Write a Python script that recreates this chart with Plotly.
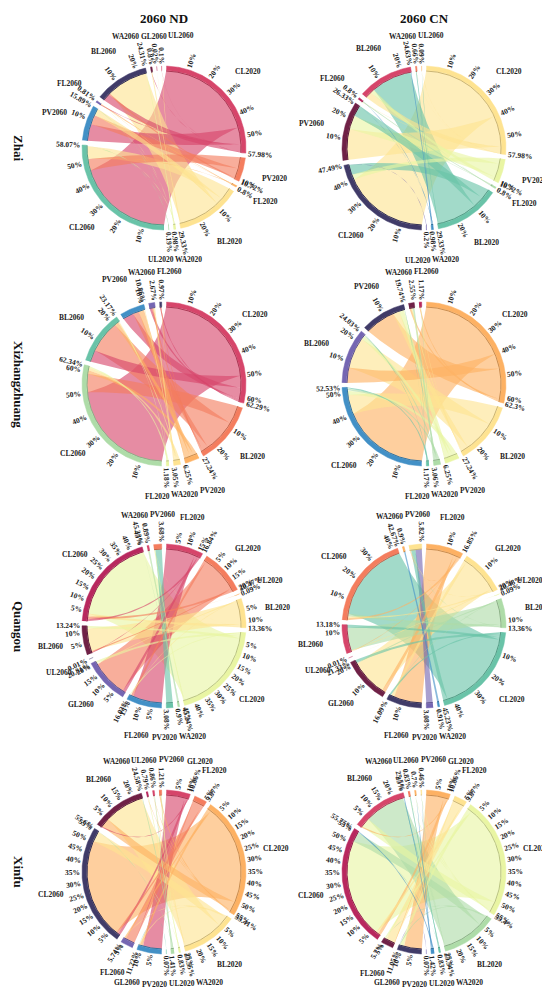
import numpy as np
import plotly.graph_objects as go

W, H = 550, 989

sites = ["Zhai", "Xizhangzhuang", "Quangou", "Xinfu"]
scenarios = ["2060 ND", "2060 CN"]

# ---- Zhai ----
zhai_nd_2020 = ["CL2020", "PV2020", "FL2020", "BL2020", "WA2020", "UL2020"]
zhai_nd_2020_pct = [57.98, 10.72, 0.8, 29.33, 0.98, 0.19]
zhai_nd_2060 = ["CL2060", "PV2060", "FL2060", "BL2060", "WA2060", "GL2060", "UL2060"]
zhai_nd_2060_pct = [58.07, 15.89, 0.81, 24.31, 0.8, 0.02, 0.1]
zhai_nd_flows = [
    [46.0, 8.0, 0.3, 3.5, 0.13, 0.0, 0.05],
    [5.5, 4.5, 0.0, 0.72, 0.0, 0.0, 0.0],
    [0.2, 0.2, 0.4, 0.0, 0.0, 0.0, 0.0],
    [6.0, 3.1, 0.06, 19.6, 0.5, 0.02, 0.05],
    [0.2, 0.07, 0.05, 0.49, 0.17, 0.0, 0.0],
    [0.17, 0.02, 0.0, 0.0, 0.0, 0.0, 0.0],
]

zhai_cn_2020 = ["CL2020", "PV2020", "FL2020", "BL2020", "WA2020", "UL2020"]
zhai_cn_2020_pct = [57.98, 10.72, 0.8, 29.33, 0.98, 0.2]
zhai_cn_2060 = ["CL2060", "PV2060", "FL2060", "BL2060", "WA2060", "UL2060"]
zhai_cn_2060_pct = [47.49, 26.33, 0.8, 24.63, 0.66, 0.09]
zhai_cn_flows = [
    [40.0, 14.5, 0.1, 3.3, 0.05, 0.03],
    [2.5, 6.5, 0.0, 1.72, 0.0, 0.0],
    [0.0, 0.2, 0.5, 0.1, 0.0, 0.0],
    [4.8, 5.1, 0.0, 19.0, 0.37, 0.06],
    [0.0, 0.03, 0.2, 0.51, 0.24, 0.0],
    [0.2, 0.0, 0.0, 0.0, 0.0, 0.0],
]

# ---- Xizhangzhuang ----
xizh_nd_2020 = ["CL2020", "BL2020", "PV2020", "WA2020", "FL2020"]
xizh_nd_2020_pct = [62.29, 27.24, 6.25, 3.05, 1.18]
xizh_nd_2060 = ["CL2060", "BL2060", "PV2060", "WA2060", "FL2060"]
xizh_nd_2060_pct = [62.34, 23.17, 10.86, 2.67, 0.97]
xizh_nd_flows = [
    [50.29, 5.5, 5.0, 1.0, 0.5],
    [8.5, 15.0, 2.8, 0.64, 0.3],
    [1.6, 1.8, 2.5, 0.25, 0.1],
    [1.2, 0.6, 0.48, 0.7, 0.07],
    [0.75, 0.27, 0.08, 0.08, 0.0],
]

xizh_cn_2020 = ["CL2020", "BL2020", "PV2020", "WA2020", "FL2020"]
xizh_cn_2020_pct = [62.3, 27.24, 6.25, 3.06, 1.17]
xizh_cn_2060 = ["CL2060", "BL2060", "PV2060", "WA2060", "FL2060"]
xizh_cn_2060_pct = [52.53, 24.03, 19.74, 2.55, 1.17]
xizh_cn_flows = [
    [40.0, 7.0, 14.0, 0.8, 0.5],
    [9.0, 14.5, 3.0, 0.5, 0.24],
    [2.0, 1.7, 2.2, 0.25, 0.1],
    [0.9, 0.6, 0.46, 0.8, 0.3],
    [0.63, 0.23, 0.08, 0.2, 0.03],
]

# ---- Quangou ----
quan_nd_2020 = ["FL2020", "GL2020", "UL2020", "BL2020", "CL2020", "WA2020", "PV2020"]
quan_nd_2020_pct = [16.84, 20.47, 0.09, 13.36, 45.24, 0.9, 3.08]
quan_nd_2060 = ["FL2060", "GL2060", "UL2060", "BL2060", "CL2060", "WA2060", "PV2060"]
quan_nd_2060_pct = [16.03, 20.81, 0.01, 13.24, 45.33, 0.89, 3.68]
quan_nd_flows = [
    [14.0, 1.5, 0.0, 0.34, 1.0, 0.0, 0.0],
    [1.2, 17.5, 0.0, 0.57, 1.2, 0.0, 0.0],
    [0.0, 0.0, 0.01, 0.0, 0.08, 0.0, 0.0],
    [0.3, 0.5, 0.0, 11.0, 1.5, 0.0, 0.06],
    [0.53, 1.31, 0.0, 1.33, 41.4, 0.17, 0.5],
    [0.0, 0.0, 0.0, 0.0, 0.15, 0.72, 0.03],
    [0.0, 0.0, 0.0, 0.0, 0.0, 0.0, 3.08],
]

quan_cn_2020 = ["FL2020", "GL2020", "UL2020", "BL2020", "CL2020", "WA2020", "PV2020"]
quan_cn_2020_pct = [16.85, 20.48, 0.09, 13.36, 45.23, 0.91, 3.08]
quan_cn_2060 = ["FL2060", "GL2060", "UL2060", "BL2060", "CL2060", "WA2060", "PV2060"]
quan_cn_2060_pct = [16.09, 21.33, 0.01, 13.18, 42.67, 0.9, 5.82]
quan_cn_flows = [
    [13.5, 1.8, 0.0, 0.3, 1.0, 0.0, 0.25],
    [1.5, 17.5, 0.0, 0.4, 0.8, 0.0, 0.28],
    [0.0, 0.0, 0.01, 0.0, 0.08, 0.0, 0.0],
    [0.3, 0.6, 0.0, 11.0, 1.3, 0.0, 0.16],
    [0.79, 1.43, 0.0, 1.48, 39.49, 0.0, 2.04],
    [0.0, 0.0, 0.0, 0.0, 0.0, 0.9, 0.01],
    [0.0, 0.0, 0.0, 0.0, 0.0, 0.0, 3.08],
]

# ---- Xinfu ----
xinf_nd_2020 = ["GL2020", "FL2020", "CL2020", "BL2020", "WA2020", "UL2020", "PV2020"]
xinf_nd_2020_pct = [10.86, 5.87, 55.41, 25.55, 0.83, 1.41, 0.07]
xinf_nd_2060 = ["GL2060", "FL2060", "CL2060", "BL2060", "WA2060", "UL2060", "PV2060"]
xinf_nd_2060_pct = [11.22, 5.74, 55.6, 24.58, 0.79, 0.86, 1.21]
xinf_nd_flows = [
    [9.0, 0.16, 1.2, 0.5, 0.0, 0.0, 0.0],
    [0.37, 4.5, 1.0, 0.0, 0.0, 0.0, 0.0],
    [1.2, 0.8, 48.0, 4.5, 0.21, 0.2, 0.5],
    [0.6, 0.28, 5.0, 19.0, 0.17, 0.1, 0.4],
    [0.0, 0.0, 0.2, 0.1, 0.41, 0.0, 0.12],
    [0.0, 0.0, 0.2, 0.48, 0.0, 0.56, 0.17],
    [0.05, 0.0, 0.0, 0.0, 0.0, 0.0, 0.02],
]

xinf_cn_2020 = ["GL2020", "FL2020", "CL2020", "BL2020", "WA2020", "UL2020", "PV2020"]
xinf_cn_2020_pct = [10.86, 5.87, 55.4, 25.54, 0.83, 1.42, 0.07]
xinf_cn_2060 = ["GL2060", "FL2060", "CL2060", "BL2060", "WA2060", "UL2060", "PV2060"]
xinf_cn_2060_pct = [11.05, 5.7, 55.75, 25.5, 0.83, 0.7, 0.46]
xinf_cn_flows = [
    [8.5, 0.26, 1.5, 0.6, 0.0, 0.0, 0.0],
    [0.47, 4.3, 1.1, 0.0, 0.0, 0.0, 0.0],
    [1.5, 0.9, 47.7, 4.6, 0.2, 0.2, 0.3],
    [0.53, 0.24, 4.8, 19.5, 0.2, 0.15, 0.12],
    [0.0, 0.0, 0.1, 0.3, 0.43, 0.0, 0.0],
    [0.0, 0.0, 0.55, 0.5, 0.0, 0.35, 0.02],
    [0.05, 0.0, 0.0, 0.0, 0.0, 0.0, 0.02],
]

panels = [
    (zhai_nd_2020, zhai_nd_2020_pct, zhai_nd_2060, zhai_nd_2060_pct, zhai_nd_flows),
    (zhai_cn_2020, zhai_cn_2020_pct, zhai_cn_2060, zhai_cn_2060_pct, zhai_cn_flows),
    (xizh_nd_2020, xizh_nd_2020_pct, xizh_nd_2060, xizh_nd_2060_pct, xizh_nd_flows),
    (xizh_cn_2020, xizh_cn_2020_pct, xizh_cn_2060, xizh_cn_2060_pct, xizh_cn_flows),
    (quan_nd_2020, quan_nd_2020_pct, quan_nd_2060, quan_nd_2060_pct, quan_nd_flows),
    (quan_cn_2020, quan_cn_2020_pct, quan_cn_2060, quan_cn_2060_pct, quan_cn_flows),
    (xinf_nd_2020, xinf_nd_2020_pct, xinf_nd_2060, xinf_nd_2060_pct, xinf_nd_flows),
    (xinf_cn_2020, xinf_cn_2020_pct, xinf_cn_2060, xinf_cn_2060_pct, xinf_cn_flows),
]
tick_steps = [10, 10, 10, 10, 5, 10, 5, 5]

# styling
PALETTE = ["#D6456A", "#F47D5E", "#FDB163", "#FEE391", "#E9F5A3", "#AEDCA8",
           "#69C3A8", "#4290C6", "#7566B2", "#403B68", "#6F2146", "#B8285E"]
color_start = [0, 3, 0, 2, 0, 2, 0, 2]
col_x = [156, 416]
row_y = [140, 376, 618, 864]
R = 82
BAND = 4.5
GAP = 3.3
FONT = "Liberation Serif"
TICK_FS = 7.5
NAME_FS = 7.5


def rgba(hexc, a):
    h = hexc.lstrip("#")
    return f"rgba({int(h[0:2], 16)},{int(h[2:4], 16)},{int(h[4:6], 16)},{a})"


def darker(hexc, f=0.8):
    h = hexc.lstrip("#")
    r, g, b = (int(h[i:i + 2], 16) for i in (0, 2, 4))
    return f"rgb({int(r * f)},{int(g * f)},{int(b * f)})"


def xy(cx, cy, r, deg):
    t = np.radians(deg)
    return cx + r * np.cos(t), cy - r * np.sin(t)


def arc(cx, cy, r, a0, a1):
    n = max(3, int(abs(a1 - a0) * 1.5) + 2)
    a = np.linspace(a0, a1, n)
    return xy(cx, cy, r, a)


def bezier(cx, cy, p0, p2, n=40):
    # control point pulled towards the centre, like circlize links
    kx = cx + 0.25 * ((p0[0] + p2[0]) / 2 - cx)
    ky = cy + 0.25 * ((p0[1] + p2[1]) / 2 - cy)
    t = np.linspace(0, 1, n)
    x = (1 - t) ** 2 * p0[0] + 2 * (1 - t) * t * kx + t ** 2 * p2[0]
    y = (1 - t) ** 2 * p0[1] + 2 * (1 - t) * t * ky + t ** 2 * p2[1]
    return x, y


def text_width(s, fs):
    w = 0.0
    for ch in s:
        if ch.isdigit():
            w += 0.5
        elif ch == ".":
            w += 0.25
        elif ch == "%":
            w += 1.0
        else:
            w += 0.7
    return w * fs


def radial_angle(deg):
    d = (deg + 180) % 360 - 180
    if np.cos(np.radians(d)) >= 0:
        ta = -d
    else:
        ta = 180 - d
    return (ta + 180) % 360 - 180


fig = go.Figure()
annotations = []

for k, (a_names, a_pct, b_names, b_pct, flows) in enumerate(panels):
    cx = col_x[k % 2]
    cy = row_y[k // 2]
    step = tick_steps[k]
    names = a_names + b_names
    pcts = a_pct + b_pct
    n = len(names)
    dp = (360 - n * GAP) / sum(pcts)
    cols = [PALETTE[(color_start[k] + i) % len(PALETTE)] for i in range(n)]

    starts, ends = [], []
    cur = 90 - GAP / 2
    for p in pcts:
        starts.append(cur)
        ends.append(cur - p * dp)
        cur = cur - p * dp - GAP

    rc = R - BAND
    flows = np.array(flows, dtype=float)
    na, nb = len(a_names), len(b_names)
    row_scale = [a_pct[i] / flows[i].sum() for i in range(na)]
    col_scale = [b_pct[j] / flows[:, j].sum() for j in range(nb)]
    a_off = [0.0] * na
    b_off = [0.0] * nb
    links = []
    for i in range(na):
        for j in range(nb):
            f = flows[i, j]
            if f <= 0:
                continue
            wa = f * row_scale[i]
            a1 = starts[i] - a_off[i] * dp
            a2 = a1 - wa * dp
            a_off[i] += wa
            links.append((i, j, a1, a2, f))
    link_b = {}
    for j in range(nb):
        for i in range(na):
            f = flows[i, j]
            if f <= 0:
                continue
            wb = f * col_scale[j]
            b1 = starts[na + j] - b_off[j] * dp
            b2 = b1 - wb * dp
            b_off[j] += wb
            link_b[(i, j)] = (b1, b2)

    # chords, widest first so small ones stay visible on top
    for i, j, a1, a2, f in sorted(links, key=lambda t: -t[4]):
        b1, b2 = link_b[(i, j)]
        x1, y1 = arc(cx, cy, rc, a1, a2)
        pa2 = (x1[-1], y1[-1])
        pb1 = xy(cx, cy, rc, b1)
        x2, y2 = bezier(cx, cy, pa2, pb1)
        x3, y3 = arc(cx, cy, rc, b1, b2)
        pb2 = (x3[-1], y3[-1])
        pa1 = (x1[0], y1[0])
        x4, y4 = bezier(cx, cy, pb2, pa1)
        xs = np.concatenate([x1, x2, x3, x4])
        ys = np.concatenate([y1, y2, y3, y4])
        fig.add_trace(go.Scatter(
            x=xs, y=ys, mode="lines", fill="toself",
            fillcolor=rgba(cols[i], 0.62), line=dict(width=0),
            hoverinfo="skip", showlegend=False,
        ))

    # sector bands
    for s_i in range(n):
        s, e = starts[s_i], ends[s_i]
        xo, yo = arc(cx, cy, R, s, e)
        xi, yi = arc(cx, cy, R - BAND, e, s)
        fig.add_trace(go.Scatter(
            x=np.concatenate([xo, xi]), y=np.concatenate([yo, yi]),
            mode="lines", fill="toself", fillcolor=cols[s_i],
            line=dict(width=0.5, color=cols[s_i]),
            hoverinfo="skip", showlegend=False,
        ))
        xl, yl = arc(cx, cy, R - BAND - 0.5, s, e)
        fig.add_trace(go.Scatter(
            x=xl, y=yl, mode="lines", line=dict(width=1, color=darker(cols[s_i])),
            hoverinfo="skip", showlegend=False,
        ))

    # tick labels and totals (radial text)
    def radial_label(txt, deg):
        L = text_width(txt, TICK_FS)
        x, y = xy(cx, cy, R + 2 + L / 2, deg)
        annotations.append(dict(
            x=x, y=y, xref="x", yref="y", text=txt, showarrow=False,
            textangle=radial_angle(deg), xanchor="center", yanchor="middle",
            font=dict(family=FONT, size=TICK_FS, color="#222", weight="bold"),
        ))

    for s_i in range(n):
        p = pcts[s_i]
        v = step
        while v < p - 1e-9:
            radial_label(f"{v}%", starts[s_i] - v * dp)
            v += step
        radial_label(f"{p:g}%", ends[s_i])

    # sector names (horizontal), spread to avoid overlaps
    boxes = []
    for s_i in range(n):
        m = (starts[s_i] + ends[s_i]) / 2
        wdt = text_width(names[s_i], NAME_FS)
        r = R + 30 + 3 * abs(np.cos(np.radians(m)))
        x, y = xy(cx, cy, r, m)
        boxes.append([x, y, wdt, x])

    def clamp(b):
        b[0] = min(max(b[0], b[2] * 0.6 + 22), W - 3 - b[2] * 0.6)

    for b in boxes:
        clamp(b)
    for _ in range(300):
        moved = False
        for p in range(n):
            for q in range(p + 1, n):
                dx = boxes[q][0] - boxes[p][0]
                dy = boxes[q][1] - boxes[p][1]
                need = (boxes[p][2] + boxes[q][2]) / 2 + 2
                if abs(dy) < NAME_FS * 1.15 and abs(dx) < need:
                    sgn = 1 if boxes[q][3] >= boxes[p][3] else -1
                    push = (need - abs(dx)) / 2 + 0.1
                    boxes[q][0] += sgn * push
                    boxes[p][0] -= sgn * push
                    clamp(boxes[q])
                    clamp(boxes[p])
                    moved = True
        if not moved:
            break
    # anything still touching after clamping: separate vertically
    for p in range(n):
        for q in range(p + 1, n):
            dx = boxes[q][0] - boxes[p][0]
            dy = boxes[q][1] - boxes[p][1]
            need = (boxes[p][2] + boxes[q][2]) / 2 + 2
            if abs(dy) < NAME_FS * 1.15 and abs(dx) < need:
                sg = 1 if dy >= 0 else -1
                boxes[q][1] = boxes[p][1] + sg * NAME_FS * 1.2
    for s_i in range(n):
        annotations.append(dict(
            x=boxes[s_i][0], y=boxes[s_i][1], xref="x", yref="y",
            text=names[s_i], showarrow=False, xanchor="center", yanchor="middle",
            font=dict(family=FONT, size=NAME_FS, color="#222", weight="bold"),
        ))

for c, title in enumerate(scenarios):
    annotations.append(dict(
        x=col_x[c], y=10, xref="x", yref="y", text=title, showarrow=False,
        font=dict(family=FONT, size=13, color="#111", weight="bold"),
    ))
for r, site in enumerate(sites):
    annotations.append(dict(
        x=11, y=row_y[r], xref="x", yref="y", text=site, showarrow=False,
        textangle=90,
        font=dict(family=FONT, size=13, color="#111", weight="bold"),
    ))

fig.update_layout(
    width=W, height=H,
    margin=dict(l=0, r=0, t=0, b=0),
    paper_bgcolor="white", plot_bgcolor="white",
    xaxis=dict(range=[0, W], visible=False, fixedrange=True),
    yaxis=dict(range=[H, 0], visible=False, fixedrange=True),
    annotations=annotations,
    showlegend=False,
)

fig.write_html("out.html")
